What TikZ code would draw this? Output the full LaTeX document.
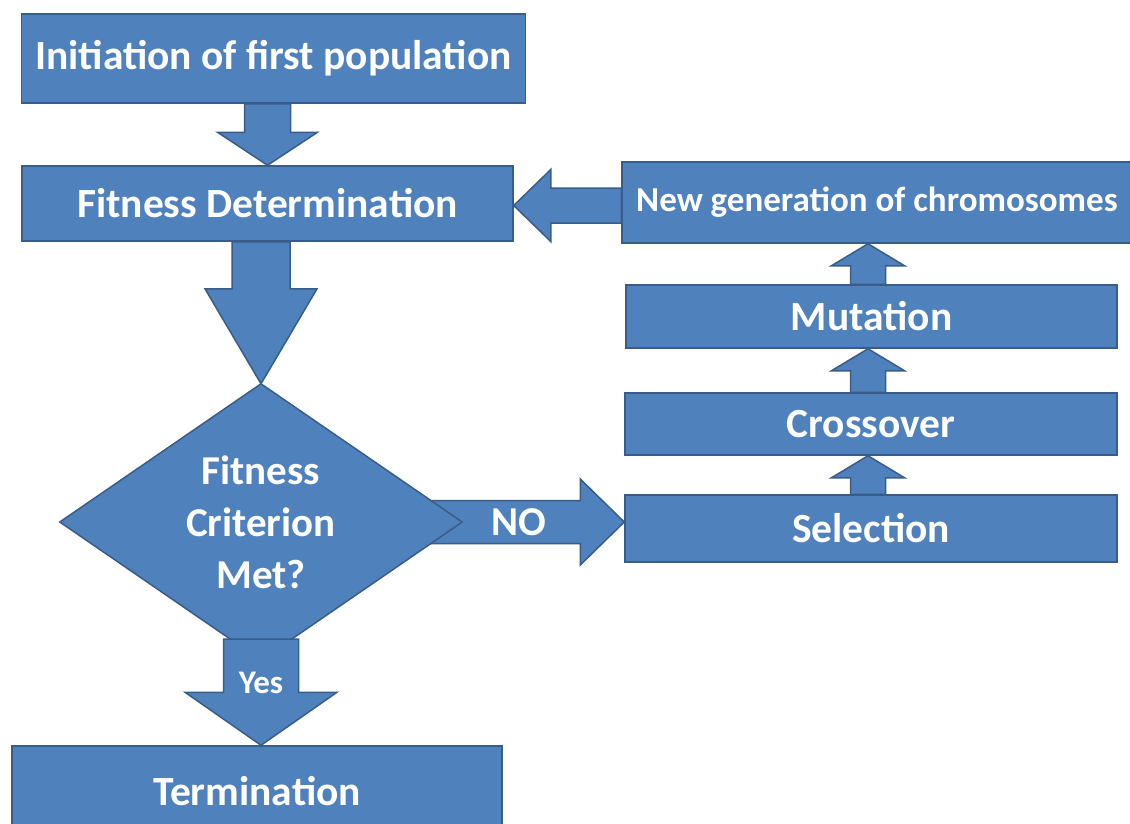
\documentclass[tikz,border=0pt]{standalone}
\usepackage{fontspec}
\setmainfont{Carlito}
\usetikzlibrary{shapes.geometric,calc,backgrounds}
\definecolor{boxblue}{RGB}{79,129,189}
\definecolor{edgeblue}{RGB}{56,93,138}
\newcommand{\blockarrow}[5]{%
  \coordinate (ba-h) at ($(#2)!#5!(#1)$);
  \filldraw[arr] ($(#1)!#3!90:(#2)$) -- ($(ba-h)!#3!90:(#2)$) -- ($(ba-h)!#4!90:(#2)$) -- (#2)
     -- ($(ba-h)!#4!-90:(#2)$) -- ($(ba-h)!#3!-90:(#2)$) -- ($(#1)!#3!-90:(#2)$) -- cycle;
}
\begin{document}
\begin{tikzpicture}[x=1pt,y=-1pt,
  box/.style={draw=edgeblue,fill=boxblue,line width=1.5pt,text=white,
    font=\bfseries\fontsize{41.5}{46}\selectfont,inner sep=0pt},
  arr/.style={draw=edgeblue,fill=boxblue,line width=1.5pt,line join=miter},
  lbl/.style={text=white,font=\bfseries\fontsize{41}{52}\selectfont,inner sep=0pt,align=center}]
\begin{pgfonlayer}{background}
\fill[white] (0,0) rectangle (1130,823);
\end{pgfonlayer}
\useasboundingbox (0,0) rectangle (1130,823);

% boxes
\node[box,minimum width=504pt,minimum height=89pt] (init) at (273.5,58.5) {Initiation of first population};
\node[box,minimum width=491pt,minimum height=75pt] (fit) at (267.5,203.5) {Fitness Determination};
\node[draw=none,diamond,minimum width=402pt,minimum height=276pt,inner sep=0pt] (dia) at (261,522) {};
\node[box,minimum width=490pt,minimum height=90pt] (term) at (257,791) {Termination};
\node[box,minimum width=492pt,minimum height=67pt] (sel) at (871,528.5) {Selection};
\node[box,minimum width=492pt,minimum height=62pt] (cro) at (871,424) {Crossover};
\node[box,minimum width=491pt,minimum height=63pt] (mut) at (871.5,316.5) {Mutation};
\node[box,minimum width=510pt,minimum height=81pt,font=\bfseries\fontsize{35}{40}\selectfont] (gen) at (877,202.5) {New generation of chromosomes};

% NO arrow behind the diamond
\coordinate (a4t) at (sel.west |- dia.center);
\begin{pgfonlayer}{background}
\blockarrow{dia.center}{a4t}{21.5pt}{43pt}{44pt}
\end{pgfonlayer}
\node[lbl] (no) at ($(dia.center)!0.71!(a4t)$) {NO};

% diamond
\draw[arr] (dia.north) -- (dia.east) -- (dia.south) -- (dia.west) -- cycle;
\node[lbl] (crit) at (dia.center) {Fitness\\Criterion\\Met?};

% down arrows
\coordinate (a1) at (init.south -| fit.north);
\blockarrow{a1}{fit.north}{23pt}{50pt}{33pt}
\coordinate (a2) at (fit.south -| dia.north);
\blockarrow{a2}{dia.north}{29pt}{56pt}{95pt}
\coordinate (a3) at ($(dia.south)+(0,-21)$);
\coordinate (a3t) at (term.north -| dia.south);
\blockarrow{a3}{a3t}{37.5pt}{76pt}{53pt}
\node[lbl,font=\bfseries\fontsize{33}{38}\selectfont] (yes) at ($(a3)!0.41!(a3t)$) {Yes};

% up arrows
\coordinate (u1) at ($(sel.north)+(-3,0)$);
\coordinate (u1t) at (cro.south -| u1);
\blockarrow{u1}{u1t}{17.5pt}{36.5pt}{22pt}
\coordinate (u2) at (cro.north -| u1);
\coordinate (u2t) at (mut.south -| u1);
\blockarrow{u2}{u2t}{17.5pt}{36.5pt}{22pt}
\coordinate (u3) at (mut.north -| u1);
\coordinate (u3t) at (gen.south -| u1);
\blockarrow{u3}{u3t}{17.5pt}{36.5pt}{22pt}

% left arrow
\coordinate (l1) at ($(gen.west)+(0,3)$);
\coordinate (l1t) at (fit.east |- l1);
\blockarrow{l1}{l1t}{17.5pt}{36pt}{37pt}
\end{tikzpicture}
\end{document}
